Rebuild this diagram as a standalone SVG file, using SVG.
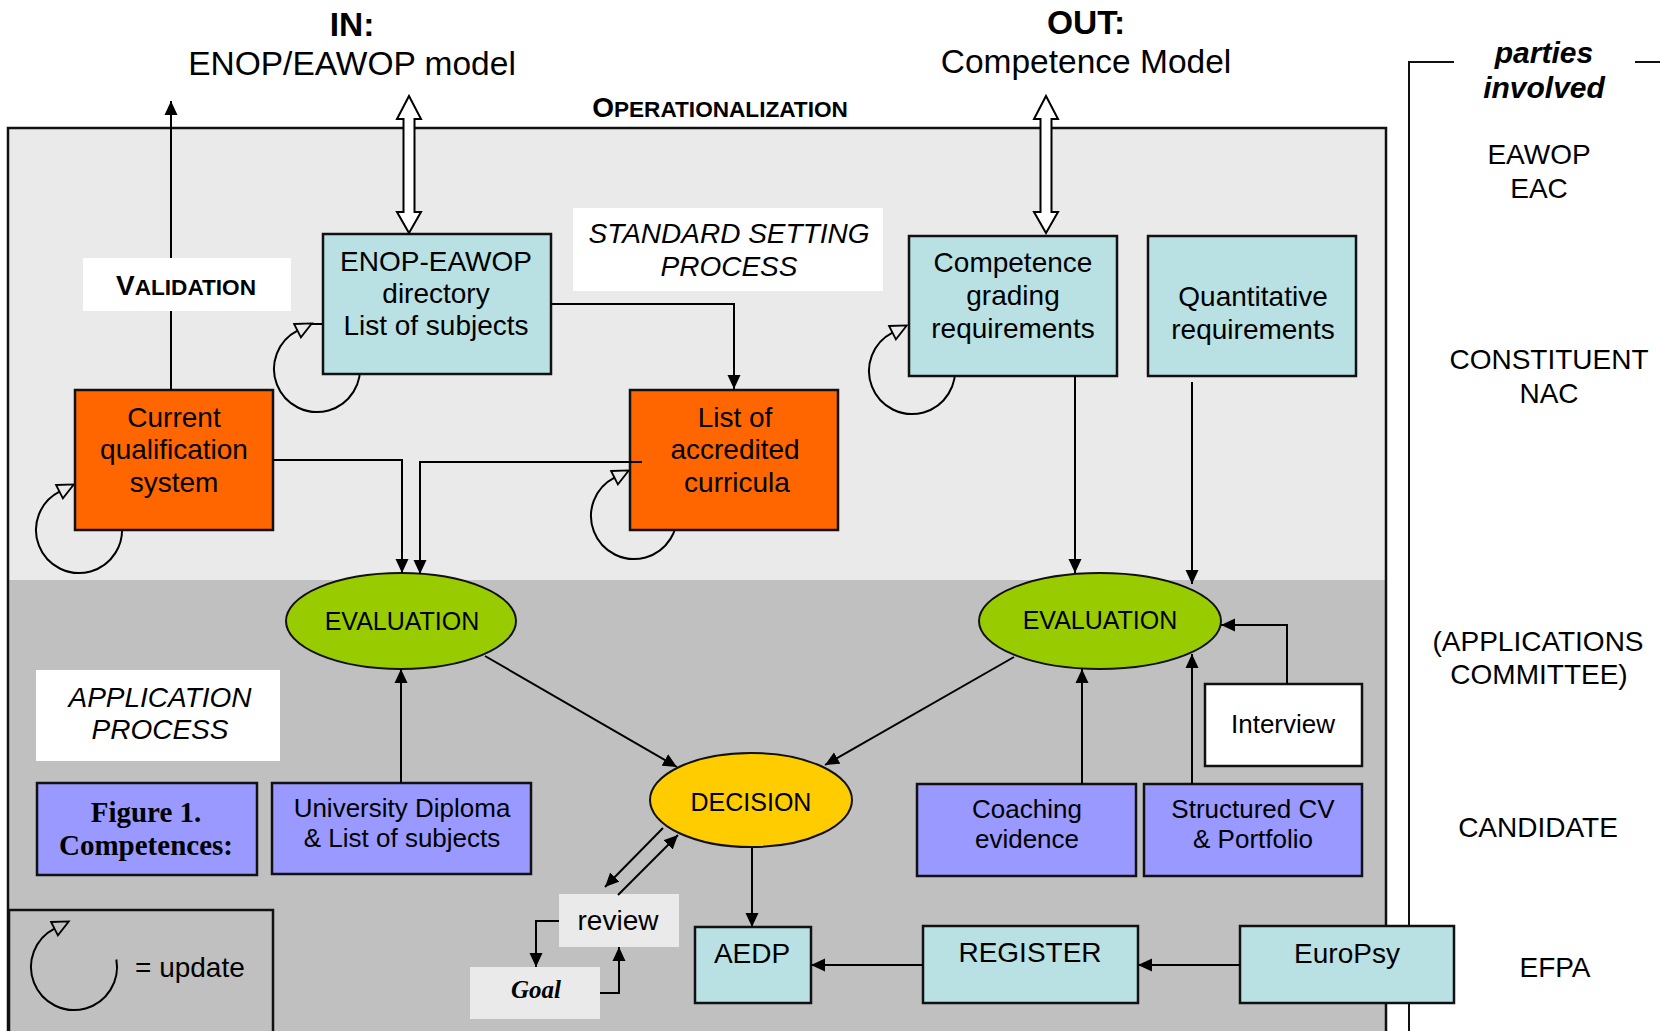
<svg xmlns="http://www.w3.org/2000/svg" xmlns:xlink="http://www.w3.org/1999/xlink" width="1660" height="1031" viewBox="0 0 1660 1031">
<style>
text{font-family:"Liberation Sans",Arial,sans-serif;fill:#000;text-anchor:middle}
.f28{font-size:28px}
.f26{font-size:26px}
.f25{font-size:25px}
.f33{font-size:33.5px}
.b{font-weight:bold}
.i{font-style:italic}
.serif{font-family:"Liberation Serif","Times New Roman",serif}
.box{stroke:#111;stroke-width:2.5}
.cyan{fill:#B9E0E3}
.orange{fill:#FF6600}
.purple{fill:#9999FF}
.white{fill:#FFFFFF}
.lg{fill:#EAEAEA}
.ln{fill:none;stroke:#000;stroke-width:2}
.arr{marker-end:url(#ah)}
.dbl{fill:#FFFFFF;stroke:#000;stroke-width:2}
</style>
<defs>
<marker id="ah" viewBox="0 0 14 14" refX="14" refY="7" markerWidth="14" markerHeight="14" markerUnits="userSpaceOnUse" orient="auto"><path d="M0,0.5 L14,7 L0,13.5 z" fill="#000"/></marker>
<marker id="hh" viewBox="-1 -9 20 18" refX="1" refY="0" markerWidth="20" markerHeight="18" markerUnits="userSpaceOnUse" orient="auto"><path d="M1,-7.5 L17,0 L1,7.5 z" fill="none" stroke="#000" stroke-width="1.8"/></marker>
<g id="loop"><path d="M42.35,-7.47 A43,43 0 1,1 -19.5,-38.3" fill="none" stroke="#000" stroke-width="2" marker-end="url(#hh)"/></g>
</defs>

<g id="background">
<rect x="0" y="0" width="1660" height="1031" fill="#FFFFFF"/>
<rect x="8" y="128" width="1378" height="452" fill="#EAEAEA"/>
<rect x="8" y="580" width="1378" height="460" fill="#C0C0C0"/>
<rect x="8" y="128" width="1378" height="920" fill="none" stroke="#111" stroke-width="2.5"/>
<path d="M1409,1040 V62 H1454 M1635,62 H1660" fill="none" stroke="#111" stroke-width="2"/>
<rect x="9" y="910" width="264" height="140" fill="none" stroke="#111" stroke-width="2.5"/>
</g>

<g id="titles">
<text class="f33 b" x="352" y="36">IN:</text>
<text class="f33" x="352" y="75">ENOP/EAWOP model</text>
<text class="f33 b" x="1086" y="34">OUT:</text>
<text class="f33" x="1086" y="73">Competence Model</text>
<text class="b" x="720" y="117"><tspan font-size="28">O</tspan><tspan font-size="22.6">PERATIONALIZATION</tspan></text>
<text class="b i" font-size="30" x="1544" y="63">parties</text>
<text class="b i" font-size="30" x="1544" y="98">involved</text>
<text class="f28" x="1539" y="164">EAWOP</text>
<text class="f28" x="1539" y="198">EAC</text>
<text class="f28" x="1549" y="369">CONSTITUENT</text>
<text class="f28" x="1549" y="403">NAC</text>
<text class="f28" x="1538" y="651">(APPLICATIONS</text>
<text class="f28" x="1539" y="684">COMMITTEE)</text>
<text class="f28" x="1538" y="837">CANDIDATE</text>
<text class="f28" x="1555" y="977">EFPA</text>
</g>

<g id="loops">
<use xlink:href="#loop" x="317" y="369"/>
<line x1="311" y1="324" x2="323" y2="324" stroke="#000" stroke-width="2"/>
<use xlink:href="#loop" x="79" y="530"/>
<use xlink:href="#loop" x="634" y="516"/>
<use xlink:href="#loop" x="912" y="371"/>
<use xlink:href="#loop" x="74" y="967"/>
</g>

<g id="node-enop">
<rect class="box cyan" x="323" y="234" width="228" height="140"/>
<text class="f28" x="436" y="271">ENOP-EAWOP</text>
<text class="f28" x="436" y="303">directory</text>
<text class="f28" x="436" y="335">List of subjects</text>
</g>
<g id="node-competence">
<rect class="box cyan" x="909" y="236" width="208" height="140"/>
<text class="f28" x="1013" y="272">Competence</text>
<text class="f28" x="1013" y="305">grading</text>
<text class="f28" x="1013" y="338">requirements</text>
</g>
<g id="node-quantitative">
<rect class="box cyan" x="1148" y="236" width="208" height="140"/>
<text class="f28" x="1253" y="306">Quantitative</text>
<text class="f28" x="1253" y="339">requirements</text>
</g>
<g id="node-current">
<rect class="box orange" x="75" y="390" width="198" height="140"/>
<text class="f28" x="174" y="427">Current</text>
<text class="f28" x="174" y="459">qualification</text>
<text class="f28" x="174" y="492">system</text>
</g>
<g id="node-curricula">
<rect class="box orange" x="630" y="390" width="208" height="140"/>
<text class="f28" x="735" y="427">List of</text>
<text class="f28" x="735" y="459">accredited</text>
<text class="f28" x="737" y="492">curricula</text>
</g>
<g id="node-eval-left">
<ellipse cx="401" cy="621" rx="115" ry="48" fill="#99CC00" stroke="#111" stroke-width="2"/>
<text class="f25" x="402" y="630">EVALUATION</text>
</g>
<g id="node-eval-right">
<ellipse cx="1100" cy="621" rx="121" ry="48" fill="#99CC00" stroke="#111" stroke-width="2"/>
<text class="f25" x="1100" y="629">EVALUATION</text>
</g>
<g id="node-decision">
<ellipse cx="751" cy="800" rx="101" ry="47" fill="#FFCC00" stroke="#111" stroke-width="2"/>
<text class="f25" x="751" y="811">DECISION</text>
</g>
<g id="node-interview">
<rect class="box white" x="1205" y="684" width="157" height="82"/>
<text class="f26" x="1283" y="733">Interview</text>
</g>
<g id="node-figure">
<rect class="box purple" x="37" y="783" width="220" height="92"/>
<text class="serif b" font-size="29" x="146" y="822">Figure 1.</text>
<text class="serif b" font-size="29" x="146" y="855">Competences:</text>
</g>
<g id="node-university">
<rect class="box purple" x="272" y="783" width="259" height="91"/>
<text class="f26" x="402" y="817">University Diploma</text>
<text class="f26" x="402" y="847">&amp; List of subjects</text>
</g>
<g id="node-coaching">
<rect class="box purple" x="917" y="784" width="219" height="92"/>
<text class="f26" x="1027" y="818">Coaching</text>
<text class="f26" x="1027" y="848">evidence</text>
</g>
<g id="node-cv">
<rect class="box purple" x="1144" y="784" width="218" height="92"/>
<text class="f26" x="1253" y="818">Structured CV</text>
<text class="f26" x="1253" y="848">&amp; Portfolio</text>
</g>
<g id="node-review">
<rect class="lg" x="559" y="894" width="120" height="53"/>
<text class="f28" x="618" y="930">review</text>
</g>
<g id="node-goal">
<rect class="lg" x="470" y="967" width="130" height="52"/>
<text class="serif b i" font-size="25" x="536" y="998">Goal</text>
</g>
<g id="node-aedp">
<rect class="box cyan" x="695" y="927" width="116" height="76"/>
<text class="f28" x="752" y="963">AEDP</text>
</g>
<g id="node-register">
<rect class="box cyan" x="923" y="926" width="215" height="77"/>
<text class="f28" x="1030" y="962">REGISTER</text>
</g>
<g id="node-europsy">
<rect class="box cyan" x="1240" y="926" width="214" height="77"/>
<text class="f28" x="1347" y="963">EuroPsy</text>
</g>

<g id="connectors">
<polygon class="dbl" points="409,96 421,119 414.5,119 414.5,212 421,212 409,233 397,212 403.5,212 403.5,119 397,119"/>
<polygon class="dbl" points="1046,96 1058,119 1051.5,119 1051.5,212 1058,212 1046,233 1034,212 1040.5,212 1040.5,119 1034,119"/>
<path class="ln arr" d="M171,390 V101"/>
<path class="ln arr" d="M551,304 H734 V389"/>
<path class="ln arr" d="M273,460 H402 V573"/>
<path class="ln arr" d="M642,462 H420 V574"/>
<path class="ln arr" d="M1075,376 V573"/>
<path class="ln arr" d="M1192,382 V584"/>
<path class="ln arr" d="M1287,684 V625 H1221"/>
<path class="ln arr" d="M1082,784 V669"/>
<path class="ln arr" d="M1192,784 V654"/>
<path class="ln arr" d="M401,783 V669"/>
<path class="ln arr" d="M485,656 L677,767"/>
<path class="ln arr" d="M1014,657 L825,765"/>
<path class="ln arr" d="M663,828 L605,887"/>
<path class="ln arr" d="M618,895 L678,835"/>
<path class="ln arr" d="M559,921 H536 V967"/>
<path class="ln arr" d="M600,993 H619 V947"/>
<path class="ln arr" d="M752,848 V927"/>
<path class="ln arr" d="M923,965 H811"/>
<path class="ln arr" d="M1240,965 H1138"/>
</g>

<g id="labels">
<g id="label-validation">
<rect class="white" x="83" y="258" width="208" height="53"/>
<text class="b" x="186" y="295"><tspan font-size="28">V</tspan><tspan font-size="22.6">ALIDATION</tspan></text>
</g>
<g id="label-standard">
<rect class="white" x="573" y="208" width="310" height="83"/>
<text class="f28 i" x="729" y="243">STANDARD SETTING</text>
<text class="f28 i" x="729" y="276">PROCESS</text>
</g>
<g id="label-application">
<rect class="white" x="36" y="670" width="244" height="91"/>
<text class="f28 i" x="160" y="707">APPLICATION</text>
<text class="f28 i" x="160" y="739">PROCESS</text>
</g>
<g id="legend">
<text class="f28" x="135" y="977" style="text-anchor:start">= update</text>
</g>
</g>
</svg>
